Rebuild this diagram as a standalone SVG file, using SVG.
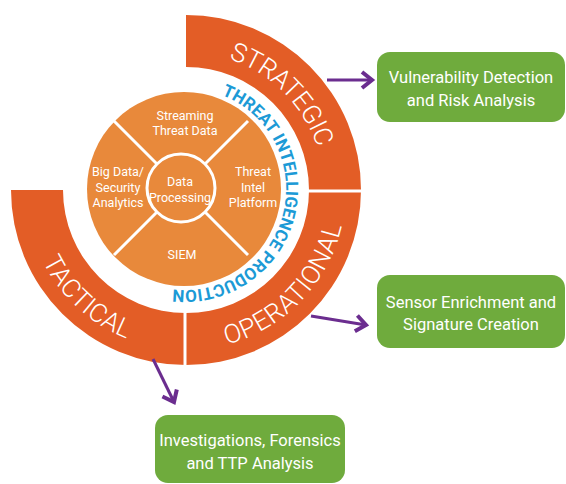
<svg xmlns="http://www.w3.org/2000/svg" width="566" height="484" viewBox="0 0 566 484">
  <style>
    .ring { fill: #e35d26; }
    .sep { stroke: #ffffff; stroke-width: 3; fill: none; }
    .disk { fill: #e8893b; }
    .div { stroke: #ffffff; stroke-width: 3; }
    .ringlbl { font-family: Roboto, "Open Sans", sans-serif; font-weight: 300; font-size: 26px; fill: #ffffff; }
    .blue { font-family: Roboto, "Open Sans", sans-serif; font-weight: 700; font-size: 17px; fill: #1c9ad6; }
    .in { font-family: Roboto, "Liberation Sans", sans-serif; font-size: 12.5px; fill: #ffffff; text-anchor: middle; }
    .box { fill: #6fab3d; }
    .bt { font-family: Roboto, "Liberation Sans", sans-serif; font-size: 16.5px; fill: #ffffff; text-anchor: middle; }
    .arr { stroke: #6b2d8f; stroke-width: 3; fill: none; }
  </style>
  <defs>
    <marker id="head" viewBox="0 0 20 20" refX="16" refY="10" markerWidth="20" markerHeight="20" markerUnits="userSpaceOnUse" orient="auto">
      <path d="M6,2 L16,10 L6,18" fill="none" stroke="#6b2d8f" stroke-width="4"/>
    </marker>
    <path id="pStrat" d="M162.0,54.1 A138,138 0 0 1 321.9,214.0"/>
    <path id="pOper" d="M147.3,345.2 A160,160 0 0 0 339.8,145.9"/>
    <path id="pTact" d="M29.9,154.8 A160,160 0 0 0 233.6,342.8"/>
    <path id="pBlue" d="M174.4,88.6 A101,101 0 1 1 128.5,272.7"/>
  </defs>

  <g id="strategic">
    <path class="ring" d="M186,15 A175,175 0 0 1 361,190 L309,190 A123,123 0 0 0 186,67 Z"/>
    <text class="ringlbl" letter-spacing="-0.5"><textPath href="#pStrat" startOffset="50%" text-anchor="middle">STRATEGIC</textPath></text>
  </g>
  <g id="operational">
    <path class="ring" d="M361,190 A175,175 0 0 1 186,365 L186,313 A123,123 0 0 0 309,190 Z"/>
    <text class="ringlbl" letter-spacing="0.5"><textPath href="#pOper" startOffset="50%" text-anchor="middle">OPERATIONAL</textPath></text>
  </g>
  <g id="tactical">
    <path class="ring" d="M186,365 A175,175 0 0 1 11,190 L63,190 A123,123 0 0 0 186,313 Z"/>
    <text class="ringlbl"><textPath href="#pTact" startOffset="50%" text-anchor="middle">TACTICAL</textPath></text>
  </g>
  <g id="ring-separators">
    <line class="sep" x1="300" y1="191" x2="366" y2="191"/>
    <line class="sep" x1="185" y1="305" x2="185" y2="370"/>
  </g>

  <g id="threat-intelligence-production">
    <text class="blue"><textPath href="#pBlue" startOffset="50%" text-anchor="middle">THREAT INTELLIGENCE PRODUCTION</textPath></text>
  </g>

  <g id="core">
    <circle class="disk" cx="184" cy="189" r="97"/>
    <line class="div" x1="181" y1="188" x2="114" y2="121"/>
    <line class="div" x1="181" y1="188" x2="248" y2="121"/>
    <line class="div" x1="181" y1="188" x2="114" y2="255"/>
    <line class="div" x1="181" y1="188" x2="248" y2="255"/>
  </g>
  <g id="streaming-threat-data">
    <text class="in" x="185" y="120">Streaming</text>
    <text class="in" x="185" y="135">Threat Data</text>
  </g>
  <g id="big-data">
    <text class="in" x="118" y="176">Big Data/</text>
    <text class="in" x="118" y="192">Security</text>
    <text class="in" x="118" y="207">Analytics</text>
  </g>
  <g id="threat-intel-platform">
    <text class="in" x="253" y="176">Threat</text>
    <text class="in" x="253" y="192">Intel</text>
    <text class="in" x="253" y="207">Platform</text>
  </g>
  <g id="siem">
    <text class="in" x="182" y="259">SIEM</text>
  </g>
  <g id="data-processing">
    <circle class="disk" cx="181" cy="188" r="34" stroke="#ffffff" stroke-width="3"/>
    <text class="in" x="180" y="186">Data</text>
    <text class="in" x="180" y="202">Processing</text>
  </g>

  <g id="vulnerability-detection">
    <rect class="box" x="377" y="52" width="188" height="70" rx="13"/>
    <text class="bt" x="471" y="83">Vulnerability Detection</text>
    <text class="bt" x="471" y="106">and Risk Analysis</text>
  </g>
  <g id="sensor-enrichment">
    <rect class="box" x="377" y="275" width="188" height="73" rx="13"/>
    <text class="bt" x="471" y="308">Sensor Enrichment and</text>
    <text class="bt" x="471" y="330">Signature Creation</text>
  </g>
  <g id="investigations">
    <rect class="box" x="155" y="415" width="190" height="68" rx="13"/>
    <text class="bt" x="250" y="446">Investigations, Forensics</text>
    <text class="bt" x="250" y="469">and TTP Analysis</text>
  </g>

  <g id="connectors">
    <line class="arr" x1="327" y1="80" x2="372" y2="80" marker-end="url(#head)"/>
    <line class="arr" x1="311" y1="316" x2="366" y2="325" marker-end="url(#head)"/>
    <line class="arr" x1="153" y1="359" x2="174" y2="402" marker-end="url(#head)"/>
  </g>
</svg>
